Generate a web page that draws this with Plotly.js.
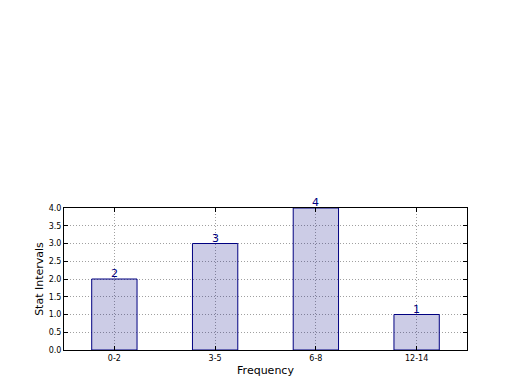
<!DOCTYPE html>
<html><head><meta charset="utf-8">
<script src="https://cdn.plot.ly/plotly-3.0.1.min.js"></script>
<style>html,body{margin:0;padding:0;background:#fff}#c{width:520px;height:390px}</style>
</head><body><div id="c"></div>
<script>
const categories = ["0-2", "3-5", "6-8", "12-14"];
const counts = [2, 3, 4, 1];
const xTitle = "Frequency";
const yTitle = "Stat Intervals";

const trace = {
  type: "bar",
  x: categories,
  y: counts,
  width: 0.45,
  marker: {color: "rgba(0,0,128,0.2)", line: {color: "#000080", width: 1}},
  hoverinfo: "none"
};
const annotations = categories.map((c, i) => ({
  x: c, y: counts[i], xref: "x", yref: "y",
  text: String(counts[i]), showarrow: false,
  yanchor: "bottom", yshift: -3,
  font: {family: "DejaVu Sans", size: 11, color: "#000080"}
}));
const axisCommon = {
  showline: true, linecolor: "#000", linewidth: 1, mirror: "ticks",
  ticks: "inside", ticklen: 4, tickcolor: "#000",
  showgrid: true, gridcolor: "#a0a0a0", griddash: "1px,2px", gridwidth: 1,
  zeroline: false,
  tickfont: {family: "DejaVu Sans", size: 8, color: "#000"}
};
const layout = {
  width: 520, height: 390,
  margin: {l: 64, r: 53, t: 208, b: 40},
  paper_bgcolor: "#fff", plot_bgcolor: "#fff",
  showlegend: false,
  font: {family: "DejaVu Sans"},
  xaxis: Object.assign({}, axisCommon, {
    type: "category", range: [-0.5, 3.5],
    title: {text: xTitle, font: {family: "DejaVu Sans", size: 11, color: "#000"}, standoff: 4}
  }),
  yaxis: Object.assign({}, axisCommon, {
    range: [0, 4], dtick: 0.5, tickformat: ".1f",
    title: {text: yTitle, font: {family: "DejaVu Sans", size: 11, color: "#000"}, standoff: 2}
  }),
  annotations: annotations
};
Plotly.newPlot("c", [trace], layout, {staticPlot: true});
</script></body></html>
